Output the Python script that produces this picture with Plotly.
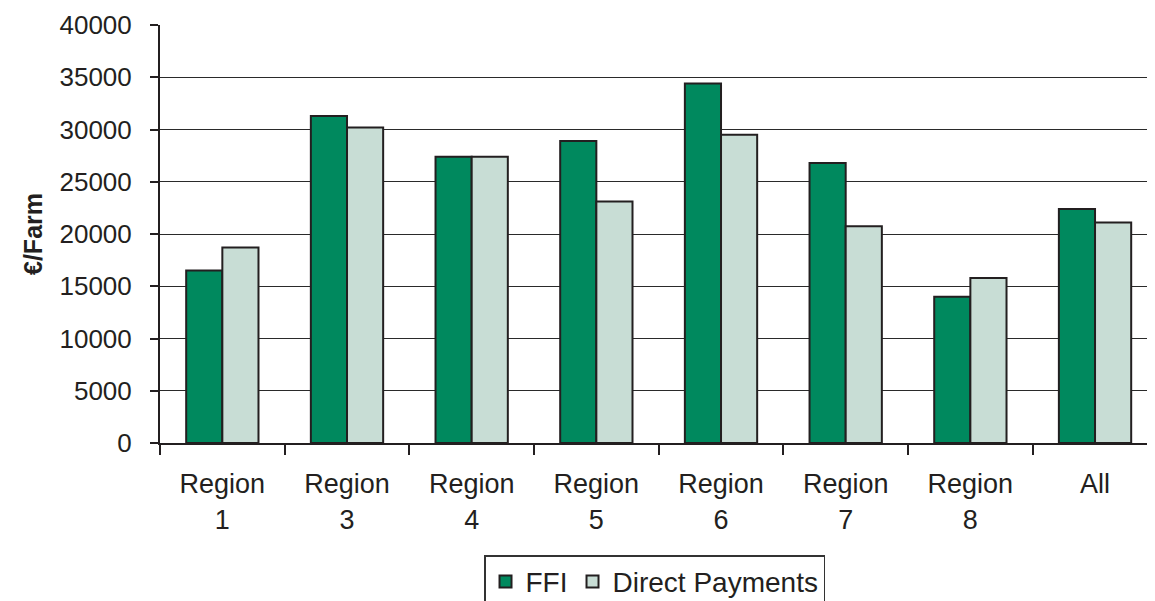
import plotly.graph_objects as go

categories = ["Region<br>1", "Region<br>3", "Region<br>4", "Region<br>5",
              "Region<br>6", "Region<br>7", "Region<br>8", "All"]
ffi = [16500, 31300, 27400, 28900, 34400, 26800, 14000, 22400]
direct_payments = [18700, 30200, 27400, 23100, 29500, 20750, 15800, 21100]
y_ticks = [0, 5000, 10000, 15000, 20000, 25000, 30000, 35000, 40000]

FONT = "Liberation Sans, Arial, sans-serif"
DARK = "#231f20"

fig = go.Figure()
fig.add_trace(go.Bar(name="FFI", x=categories, y=ffi,
                     marker=dict(color="#00895E", line=dict(color=DARK, width=2))))
fig.add_trace(go.Bar(name="Direct Payments", x=categories, y=direct_payments,
                     marker=dict(color="#C8DDD5", line=dict(color=DARK, width=2))))

# page body has an 8px margin, so the figure is offset by 8px
fig.update_layout(
    width=1147, height=593,
    margin=dict(l=152, r=0, t=17, b=158, pad=0, autoexpand=False),
    paper_bgcolor="white", plot_bgcolor="white",
    barmode="group", bargap=0.42, bargroupgap=0,
    font=dict(family=FONT, color=DARK, size=24),
    legend=dict(orientation="h", x=0.497, xanchor="center", y=-0.2685, yanchor="top",
                bordercolor="#333333", borderwidth=1.5,
                font=dict(size=28, family=FONT, color=DARK),
                itemsizing="constant", tracegroupgap=0, itemwidth=30),
    showlegend=True,
)
fig.update_xaxes(
    type="category", range=[-0.5, 7.481], automargin=False,
    showline=True, linecolor=DARK, linewidth=2,
    ticks="outside", tickson="boundaries", ticklen=10, tickcolor=DARK, tickwidth=1.5,
    tickfont=dict(size=27, family=FONT, color=DARK),
    ticklabelstandoff=16,
    showgrid=False, fixedrange=True,
)
fig.update_yaxes(
    range=[0, 40000], tickvals=y_ticks, ticktext=[str(v) for v in y_ticks],
    automargin=False,
    showline=True, linecolor=DARK, linewidth=2,
    ticks="outside", ticklen=8, tickcolor=DARK, tickwidth=1.5,
    tickfont=dict(size=26, family=FONT, color=DARK),
    ticklabelstandoff=13,
    showgrid=True, gridcolor="#2a2a2a", gridwidth=1.3,
    zeroline=False,
    title=dict(text="<b>€/Farm</b>", font=dict(size=25, family=FONT, color=DARK), standoff=10),
)

fig.write_html("out.html")
